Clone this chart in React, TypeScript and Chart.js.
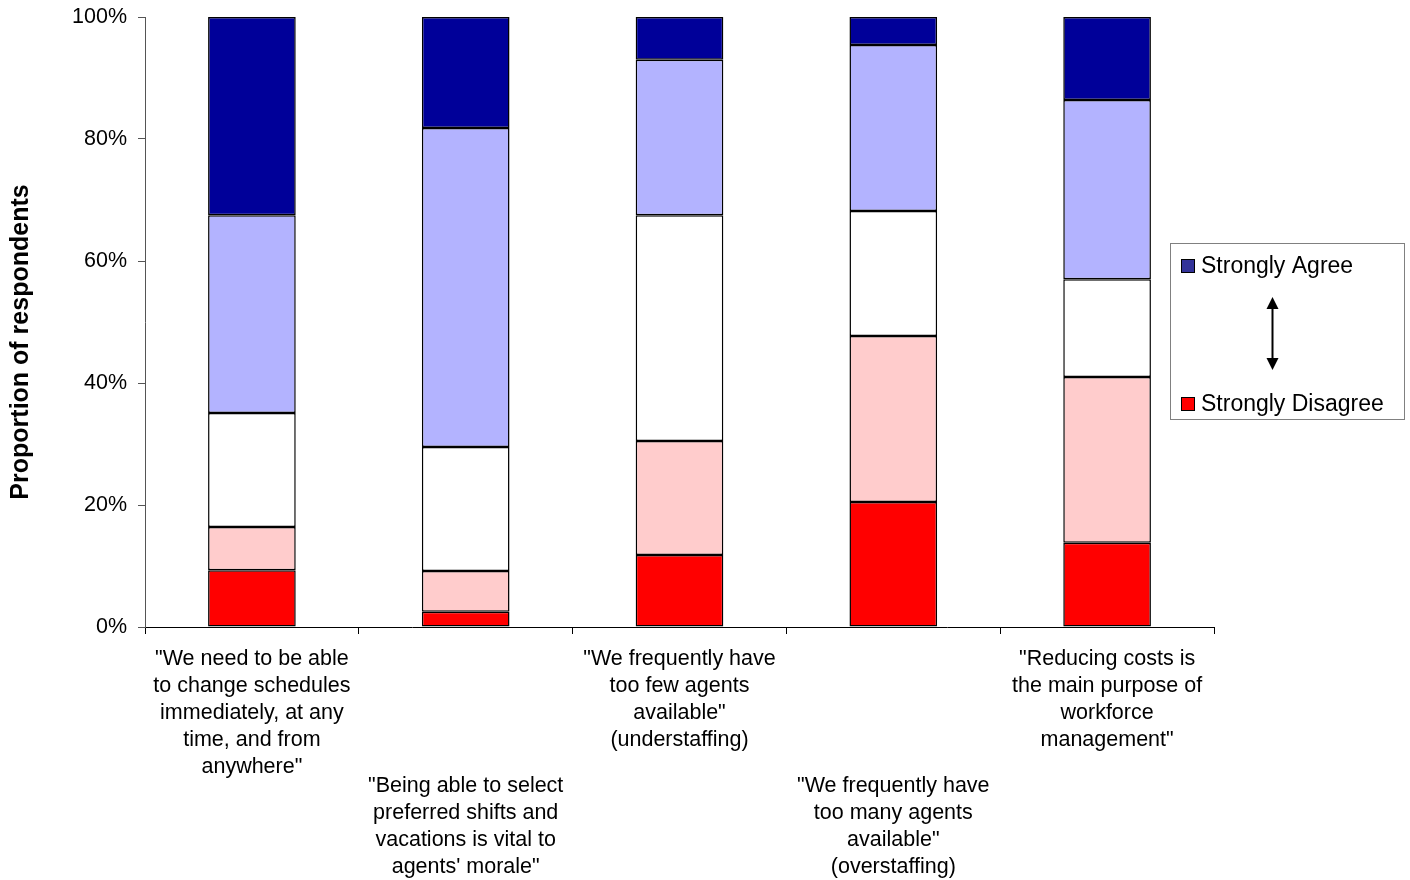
import React, { useEffect, useRef } from "react";
import { Chart, registerables } from "chart.js";

Chart.register(...registerables);

const categories: string[][] = [
  ['"We need to be able', "to change schedules", "immediately, at any", "time, and from", 'anywhere"'],
  ['"Being able to select', "preferred shifts and", "vacations is vital to", "agents' morale\""],
  ['"We frequently have', "too few agents", 'available"', "(understaffing)"],
  ['"We frequently have', "too many agents", 'available"', "(overstaffing)"],
  ['"Reducing costs is', "the main purpose of", "workforce", 'management"'],
];

const stronglyDisagree = [9.3, 2.5, 11.8, 20.5, 13.8];
const disagree = [7.1, 6.7, 18.7, 27.2, 27.2];
const neutral = [18.7, 20.3, 37.0, 20.5, 16.0];
const agree = [32.4, 52.3, 25.5, 27.2, 29.4];
const stronglyAgree = [32.5, 18.2, 7.0, 4.6, 13.6];

const yTicks = [0, 20, 40, 60, 80, 100];
const yTitle = "Proportion of respondents";
const legendTop = "Strongly Agree";
const legendBottom = "Strongly Disagree";

const FONT = "'Liberation Sans', Arial, sans-serif";

export default function App() {
  const ref = useRef<HTMLCanvasElement | null>(null);

  useEffect(() => {
    if (!ref.current) return;

    const labelsPlugin = {
      id: "customText",
      afterDraw(chart: any) {
        const ctx = chart.ctx;
        const xs = chart.scales.x;
        ctx.save();
        ctx.fillStyle = "#000";
        ctx.font = `21.5px ${FONT}`;
        ctx.textAlign = "center";
        ctx.textBaseline = "middle";
        categories.forEach((lines, i) => {
          const cx = xs.getPixelForValue(i);
          const y0 = i % 2 === 0 ? 659 : 786;
          lines.forEach((ln, j) => ctx.fillText(ln, cx, y0 + j * 27));
        });

        // y title
        ctx.save();
        ctx.translate(21, 342);
        ctx.rotate(-Math.PI / 2);
        ctx.font = `bold 25px ${FONT}`;
        ctx.fillText(yTitle, 0, 0);
        ctx.restore();

        // legend
        const lx = 1170.5, ly = 243.5, lw = 234, lh = 176;
        ctx.strokeStyle = "#808080";
        ctx.lineWidth = 1;
        ctx.strokeRect(lx, ly, lw, lh);
        ctx.textAlign = "left";
        ctx.font = `23px ${FONT}`;
        ctx.fillStyle = "#333399";
        ctx.fillRect(1181, 259, 14, 14);
        ctx.strokeStyle = "#000";
        ctx.strokeRect(1181.5, 259.5, 13, 13);
        ctx.fillStyle = "#ff0000";
        ctx.fillRect(1181, 397, 14, 14);
        ctx.strokeRect(1181.5, 397.5, 13, 13);
        ctx.fillStyle = "#000";
        ctx.fillText(legendTop, 1201, 267);
        ctx.fillText(legendBottom, 1201, 405);

        // arrow
        const ax = 1272.5;
        ctx.lineWidth = 2;
        ctx.beginPath();
        ctx.moveTo(ax, 305);
        ctx.lineTo(ax, 362);
        ctx.stroke();
        ctx.beginPath();
        ctx.moveTo(ax, 297);
        ctx.lineTo(ax - 6, 309);
        ctx.lineTo(ax + 6, 309);
        ctx.closePath();
        ctx.fill();
        ctx.beginPath();
        ctx.moveTo(ax, 370);
        ctx.lineTo(ax - 6, 358);
        ctx.lineTo(ax + 6, 358);
        ctx.closePath();
        ctx.fill();
        ctx.restore();
      },
    };

    const mk = (label: string, data: number[], color: string) => ({
      label,
      data,
      backgroundColor: color,
      borderColor: "#000",
      borderWidth: 1.5,
      borderSkipped: false,
      barPercentage: 0.41,
      categoryPercentage: 1,
    });

    const chart = new Chart(ref.current, {
      type: "bar",
      data: {
        labels: categories.map((c) => c.join(" ")),
        datasets: [
          mk("Strongly Disagree", stronglyDisagree, "#ff0000"),
          mk("Disagree", disagree, "#ffcccc"),
          mk("Neutral", neutral, "#ffffff"),
          mk("Agree", agree, "#b3b3ff"),
          mk("Strongly Agree", stronglyAgree, "#000099"),
        ],
      },
      options: {
        responsive: false,
        animation: false,
        layout: { padding: { top: 17, right: 196, left: 0, bottom: 0 } },
        plugins: { legend: { display: false }, tooltip: { enabled: false } },
        scales: {
          x: {
            stacked: true,
            ticks: { display: false },
            grid: {
              offset: true,
              drawOnChartArea: false,
              drawTicks: true,
              tickLength: 7,
              color: "#000",
            },
            border: { color: "#000", width: 1 },
            afterFit: (s: any) => {
              s.height = 253;
              s.paddingLeft = 0;
              s.paddingRight = 0;
            },
          },
          y: {
            stacked: true,
            min: 0,
            max: 100,
            afterBuildTicks: (s: any) => {
              s.ticks = yTicks.map((v) => ({ value: v }));
            },
            ticks: {
              padding: 11,
              color: "#000",
              font: { family: FONT, size: 21.5 },
              callback: (v: any) => `${v}%`,
            },
            grid: {
              drawOnChartArea: false,
              drawTicks: true,
              tickLength: 7,
              color: "#555",
            },
            border: { color: "#555", width: 1 },
            afterFit: (s: any) => {
              s.width = 145;
              s.paddingTop = 0;
              s.paddingBottom = 0;
            },
          },
        },
      },
      plugins: [labelsPlugin],
    });

    return () => chart.destroy();
  }, []);

  return (
    <div style={{ position: "absolute", left: 0, top: 0, width: 1410, height: 880, background: "#fff" }}>
      <canvas ref={ref} width={1410} height={880} style={{ display: "block" }} />
    </div>
  );
}
